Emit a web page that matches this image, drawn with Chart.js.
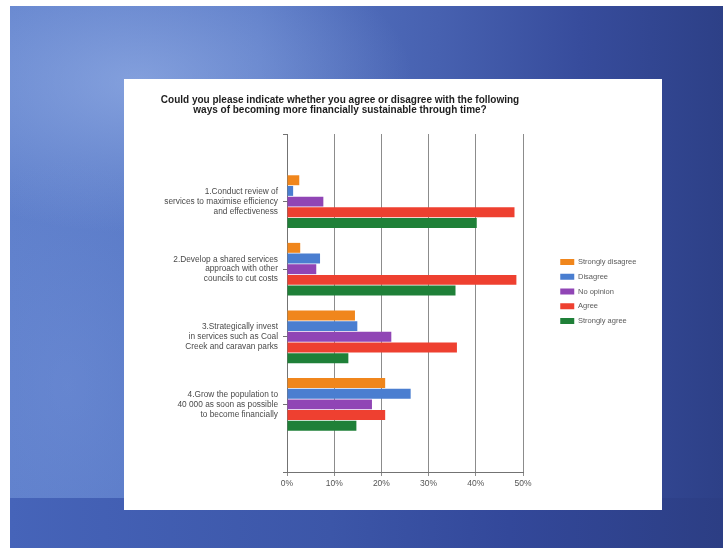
<!DOCTYPE html>
<html>
<head>
<meta charset="utf-8">
<script src="https://cdn.jsdelivr.net/npm/chart.js@4.4.1/dist/chart.umd.min.js"></script>
<style>
  html, body { margin: 0; padding: 0; }
  body { width: 723px; height: 550px; position: relative; overflow: hidden; background: #ffffff; }
  #slide {
    position: absolute; left: 10px; top: 6px; width: 713px; height: 542px;
    background:
      radial-gradient(ellipse 55% 40% at 18% 14%, rgba(165,190,238,0.55), rgba(165,190,238,0) 70%),
      radial-gradient(ellipse 30% 60% at 8% 70%, rgba(120,150,220,0.35), rgba(120,150,220,0) 70%),
      linear-gradient(90deg, #5e7fcb 0%, #5676c4 35%, #4761b0 60%, #374c9c 80%, #2d4087 100%);
  }
  #band {
    position: absolute; left: 10px; top: 498px; width: 713px; height: 50px;
    background: linear-gradient(90deg, #4664b9 0%, #3c56a8 45%, #33489a 70%, #2c3e84 100%);
  }
  #panel { position: absolute; left: 124px; top: 79px; width: 538px; height: 431px; background: #ffffff; }
  #wrap { position: absolute; left: 87px; top: 80px; width: 576px; height: 430px; }
</style>
</head>
<body>
<div id="slide"></div>
<div id="band"></div>
<div id="panel"></div>
<div id="wrap"><canvas id="chart" width="576" height="430"></canvas></div>
<script>
// Survey statements (wrapped onto three lines each)
const categories = [
  ['1.Conduct review of', 'services to maximise efficiency', 'and effectiveness'],
  ['2.Develop a shared services', 'approach with other', 'councils to cut costs'],
  ['3.Strategically invest', 'in services such as Coal', 'Creek and caravan parks'],
  ['4.Grow the population to', '40 000 as soon as possible', 'to become financially']
];

// Response shares, percent of respondents
const seriesNames = ['Strongly disagree', 'Disagree', 'No opinion', 'Agree', 'Strongly agree'];
const stronglyDisagree = [2.6, 2.8, 14.4, 20.8];
const disagree = [1.3, 7.0, 14.9, 26.2];
const noOpinion = [7.7, 6.2, 22.1, 18.0];
const agree = [48.2, 48.6, 36.0, 20.8];
const stronglyAgree = [40.2, 35.7, 13.0, 14.7];

// Percentage axis ticks
const xTicks = [0, 10, 20, 30, 40, 50];

const seriesColors = ['#f0861c', '#4a7ed0', '#9045b5', '#ee4030', '#1f8038'];
const seriesValues = [stronglyDisagree, disagree, noOpinion, agree, stronglyAgree];

const FONT = "'Liberation Sans', Arial, sans-serif";

// Keep the legend a little to the right of the plot and just above its middle
const legendPlacement = {
  id: 'legendPlacement',
  afterLayout(chart) {
    const lg = chart.legend;
    if (!lg) return;
    const dx = chart.chartArea.right + 30 - lg.left;
    lg.left += dx;
    lg.right = chart.width;
    lg.top -= 3.5;
    lg.bottom -= 3.5;
  }
};

new Chart(document.getElementById('chart'), {
  type: 'bar',
  data: {
    datasets: seriesNames.map((name, s) => ({
      label: name,
      data: seriesValues[s].map((v, i) => ({ x: v, y: i + 1 })),
      backgroundColor: seriesColors[s],
      borderWidth: 0,
      categoryPercentage: 0.79,
      barPercentage: 0.93
    }))
  },
  options: {
    indexAxis: 'y',
    responsive: false,
    animation: false,
    layout: { padding: { top: 0, right: 70, bottom: 0, left: 0 } },
    plugins: {
      title: {
        display: true,
        text: [
          'Could you please indicate whether you agree or disagree with the following',
          'ways of becoming more financially sustainable through time?'
        ],
        color: '#1e1e1e',
        font: { family: FONT, size: 10, weight: 'bold', lineHeight: 1.0 },
        padding: { top: 15, bottom: 19 }
      },
      legend: {
        position: 'right',
        align: 'center',
        maxWidth: 70,
        labels: {
          boxWidth: 14,
          boxHeight: 6,
          padding: 7.25,
          color: '#5a5a5a',
          font: { family: FONT, size: 7.5 }
        }
      },
      tooltip: { enabled: false }
    },
    scales: {
      x: {
        type: 'linear',
        position: 'bottom',
        min: 0,
        max: 50,
        afterBuildTicks: (scale) => { scale.ticks = xTicks.map(v => ({ value: v })); },
        afterFit: (scale) => { scale.height = 38; },
        ticks: {
          callback: (v) => v + '%',
          color: '#555555',
          font: { family: FONT, size: 8.5 },
          padding: 3,
          maxRotation: 0
        },
        grid: { color: '#8c8c8c', lineWidth: 1, tickLength: 4 },
        border: { color: '#737373', width: 1 }
      },
      y: {
        type: 'linear',
        reverse: true,
        offset: false,
        min: 0,
        max: categories.length + 1,
        afterBuildTicks: (scale) => {
          const t = [];
          for (let i = 0; i <= categories.length + 1; i++) t.push({ value: i });
          scale.ticks = t;
        },
        afterFit: (scale) => { scale.width = 200; },
        ticks: {
          autoSkip: false,
          callback: (v) => categories[v - 1] || '',
          color: '#4a4a4a',
          font: { family: FONT, size: 8.3, lineHeight: 1.2 },
          padding: 5
        },
        grid: { offset: false, drawOnChartArea: false, color: '#737373', tickLength: 4 },
        border: { color: '#737373', width: 1 }
      }
    }
  },
  plugins: [legendPlacement]
});
</script>
</body>
</html>
